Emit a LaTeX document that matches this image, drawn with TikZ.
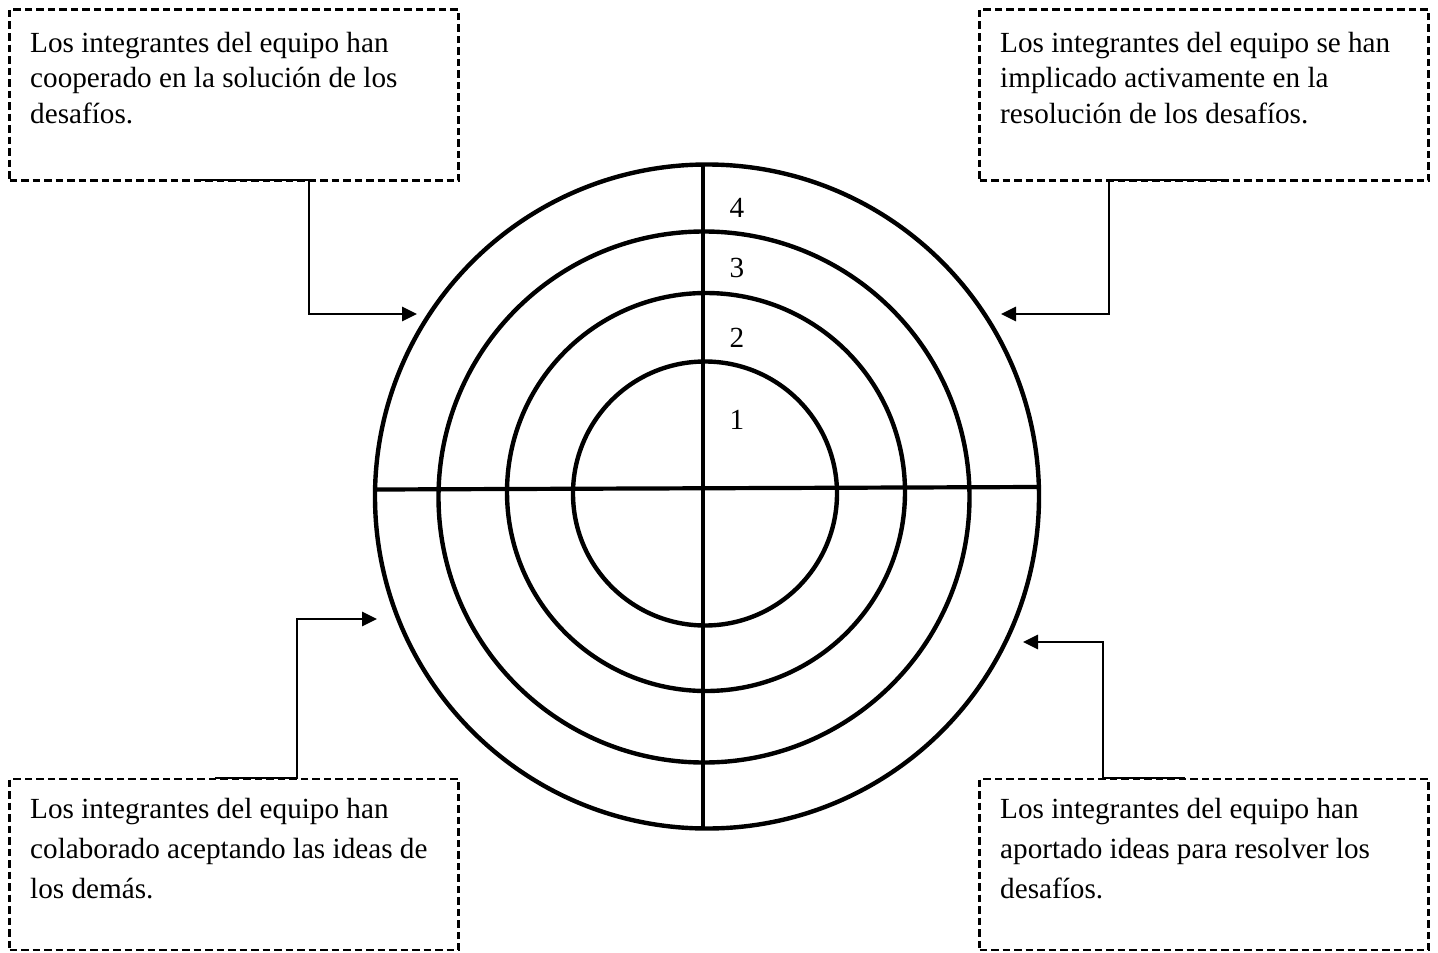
\documentclass[tikz,border=0pt]{standalone}
\usepackage{fontspec}
\setmainfont{Liberation Serif}
\usetikzlibrary{arrows.meta}
\tikzset{
  box/.style={draw, line width=2.2pt, dash pattern=on 7.5pt off 4pt, anchor=north west, inner sep=0pt, outer sep=0pt, minimum width=449pt, minimum height=171pt},
  txttop/.style={anchor=north west, inner sep=0pt, align=left, font=\fontsize{29.2}{35.5}\selectfont},
  txtbot/.style={anchor=north west, inner sep=0pt, align=left, font=\fontsize{29.2}{40}\selectfont},
  ring/.style={draw, circle, line width=4.4pt, inner sep=0pt, outer sep=0pt},
  axis/.style={line width=4.2pt},
  conn/.style={line width=2.8pt, -{Triangle[length=15pt,width=14pt]}},
  num/.style={inner sep=0pt, font=\fontsize{29.2}{35}\selectfont}
}
\begin{document}
\begin{tikzpicture}[x=1pt,y=-1pt]
\useasboundingbox (0,0) rectangle (1438,953);
% circles
\node[ring, minimum size=264pt] (c1) at (705,493.5) {};
\node[ring, minimum size=398pt] (c2) at (706,492) {};
\node[ring, minimum size=531pt] (c3) at (704,497) {};
\node[ring, minimum size=664pt] (c4) at (707,496.5) {};
% axes
\coordinate (vt) at (703,165);
\coordinate (vb) at (703,829);
\coordinate (hl) at (377,489.5);
\coordinate (hr) at (1038,487);
\draw[axis] (vt) -- (vb);
\draw[axis] (hl) -- (hr);
% numbers
\node[num] (n4) at (737,207.5) {4};
\node[num] (n3) at (737,268) {3};
\node[num] (n2) at (737,338) {2};
\node[num] (n1) at (737,420) {1};
% boxes
\node[box] (tl) at (9.5,9.5) {};
\node[box] (tr) at (979.5,9.5) {};
\node[box, minimum height=171pt] (bl) at (9.5,779) {};
\node[box, minimum height=171pt] (br) at (979.5,779) {};
% texts
\node[txttop] (tlt) at (30,32) {Los integrantes del equipo han\\cooperado en la solución de los\\desafíos.};
\node[txttop] (trt) at (1000,32) {Los integrantes del equipo se han\\implicado activamente en la\\resolución de los desafíos.};
\node[txtbot] (blt) at (30,798) {Los integrantes del equipo han\\colaborado aceptando las ideas de\\los demás.};
\node[txtbot] (brt) at (1000,798) {Los integrantes del equipo han\\aportado ideas para resolver los\\desafíos.};
% connectors
\coordinate (tlS) at (200,180);
\coordinate (tlK) at (309,180);
\coordinate (tlE) at (417,314);
\draw[conn] (tlS) -- (tlK) |- (tlE);
\coordinate (trS) at (1221,180);
\coordinate (trK) at (1109,180);
\coordinate (trE) at (1001,314);
\draw[conn] (trS) -- (trK) |- (trE);
\coordinate (blS) at (215,778);
\coordinate (blK) at (297,778);
\coordinate (blE) at (377,619);
\draw[conn] (blS) -- (blK) |- (blE);
\coordinate (brS) at (1185,778);
\coordinate (brK) at (1103,778);
\coordinate (brE) at (1023,642);
\draw[conn] (brS) -- (brK) |- (brE);
\end{tikzpicture}
\end{document}
